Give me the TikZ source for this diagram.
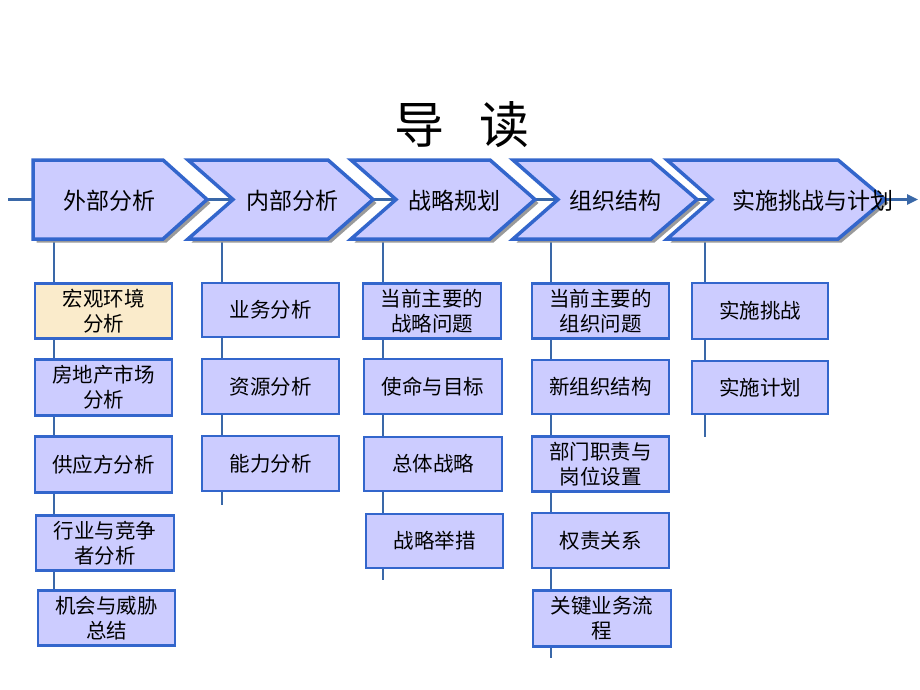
\documentclass[tikz,border=0pt]{standalone}
\usepackage{fontspec}
\setmainfont{Noto Sans CJK SC}
\usetikzlibrary{arrows.meta}
\definecolor{lav}{HTML}{CCCCFF}
\definecolor{beige}{HTML}{FAEBCB}
\definecolor{bord}{HTML}{3366CC}
\definecolor{conn}{HTML}{3A68A8}
\definecolor{shad}{HTML}{9A9A9A}
\tikzset{
  chev/.style={fill=lav, draw=bord, line width=3.5pt, line join=miter},
  chevshadow/.style={fill=shad},
  chevtext/.style={font=\fontsize{23}{27}\selectfont, anchor=center, inner sep=0pt},
  box/.style={fill=lav, draw=bord, line width=2.6pt, font=\fontsize{20.5}{25}\selectfont, align=center, inner sep=0pt},
  conline/.style={draw=conn, line width=2.6pt},
}
\begin{document}
\begin{tikzpicture}[x=1pt,y=-1pt]
\useasboundingbox (0,0) rectangle (920,690);
\fill[white] (0,0) rectangle (920,690);

% title
\node[font=\fontsize{50}{56}\selectfont, inner sep=0pt] (title) at (462,125) {导\hspace{0.7em}读};

% axis coordinates
\coordinate (axL) at (8,199.5);
\coordinate (axR) at (918,199.5);
\draw[conline, -{Triangle[length=11pt,width=10pt]}] (axL) -- (axR);

% column connector coordinates
\coordinate (k1t) at (54,239);  \coordinate (k1b) at (54,590);
\coordinate (k2t) at (222,239); \coordinate (k2b) at (222,505);
\coordinate (k3t) at (383,239); \coordinate (k3b) at (383,580);
\coordinate (k4t) at (551,239); \coordinate (k4b) at (551,658);
\coordinate (k5t) at (705,239); \coordinate (k5b) at (705,437);
\draw[conline] (k1t) -- (k1b);
\draw[conline] (k2t) -- (k2b);
\draw[conline] (k3t) -- (k3b);
\draw[conline] (k4t) -- (k4b);
\draw[conline] (k5t) -- (k5b);

% chevron shadows
\begin{scope}[shift={(3.5,3.5)}]
\fill[chevshadow] (33,160) -- (163,160) -- (207,199.5) -- (163,239) -- (33,239) -- cycle;
\fill[chevshadow] (188,160) -- (328,160) -- (373,199.5) -- (328,239) -- (188,239) -- (233,199.5) -- cycle;
\fill[chevshadow] (351,160) -- (490,160) -- (535,199.5) -- (490,239) -- (351,239) -- (396,199.5) -- cycle;
\fill[chevshadow] (513,160) -- (651,160) -- (697,199.5) -- (651,239) -- (513,239) -- (558,199.5) -- cycle;
\fill[chevshadow] (667,160) -- (838,160) -- (885,199.5) -- (838,239) -- (667,239) -- (712,199.5) -- cycle;
\end{scope}
% chevrons
\draw[chev] (33,160) -- (163,160) -- (207,199.5) -- (163,239) -- (33,239) -- cycle;
\draw[chev] (188,160) -- (328,160) -- (373,199.5) -- (328,239) -- (188,239) -- (233,199.5) -- cycle;
\draw[chev] (351,160) -- (490,160) -- (535,199.5) -- (490,239) -- (351,239) -- (396,199.5) -- cycle;
\draw[chev] (513,160) -- (651,160) -- (697,199.5) -- (651,239) -- (513,239) -- (558,199.5) -- cycle;
\draw[chev] (667,160) -- (838,160) -- (885,199.5) -- (838,239) -- (667,239) -- (712,199.5) -- cycle;

\node[chevtext] (c1) at (109,200.5) {外部分析};
\node[chevtext] (c2) at (292,200.5) {内部分析};
\node[chevtext] (c3) at (454,200.5) {战略规划};
\node[chevtext] (c4) at (615,200.5) {组织结构};
\node[chevtext] (c5) at (813,200.5) {实施挑战与计划};

% column 1
\node[box, fill=beige, minimum width=137pt, minimum height=55pt] (b11) at (103.5,311) {宏观环境\\分析};
\node[box, minimum width=137pt, minimum height=56pt] (b12) at (103.5,387.5) {房地产市场\\分析};
\node[box, minimum width=137pt, minimum height=56pt] (b13) at (103.5,464.5) {供应方分析};
\node[box, minimum width=138pt, minimum height=55pt] (b14) at (105,543) {行业与竞争\\者分析};
\node[box, minimum width=137pt, minimum height=55pt] (b15) at (106.5,618) {机会与威胁\\总结};

% column 2
\node[box, minimum width=137pt, minimum height=54pt] (b21) at (270.5,310) {业务分析};
\node[box, minimum width=137pt, minimum height=55pt] (b22) at (270.5,386.5) {资源分析};
\node[box, minimum width=137pt, minimum height=55pt] (b23) at (270.5,463.5) {能力分析};

% column 3
\node[box, minimum width=138pt, minimum height=55pt] (b31) at (432,311) {当前主要的\\战略问题};
\node[box, minimum width=138pt, minimum height=55pt] (b32) at (433,386.5) {使命与目标};
\node[box, minimum width=138pt, minimum height=54pt] (b33) at (433,464) {总体战略};
\node[box, minimum width=137pt, minimum height=54pt] (b34) at (434.5,541) {战略举措};

% column 4
\node[box, minimum width=137pt, minimum height=55pt] (b41) at (600.5,311) {当前主要的\\组织问题};
\node[box, minimum width=137pt, minimum height=54pt] (b42) at (600.5,387) {新组织结构};
\node[box, minimum width=137pt, minimum height=55pt] (b43) at (600.5,464) {部门职责与\\岗位设置};
\node[box, minimum width=137pt, minimum height=55pt] (b44) at (600.5,540.5) {权责关系};
\node[box, minimum width=138pt, minimum height=56pt] (b45) at (602,618.5) {关键业务流\\程};

% column 5
\node[box, minimum width=136pt, minimum height=56pt] (b51) at (760,311) {实施挑战};
\node[box, minimum width=136pt, minimum height=53pt] (b52) at (760,387.5) {实施计划};
\end{tikzpicture}
\end{document}
